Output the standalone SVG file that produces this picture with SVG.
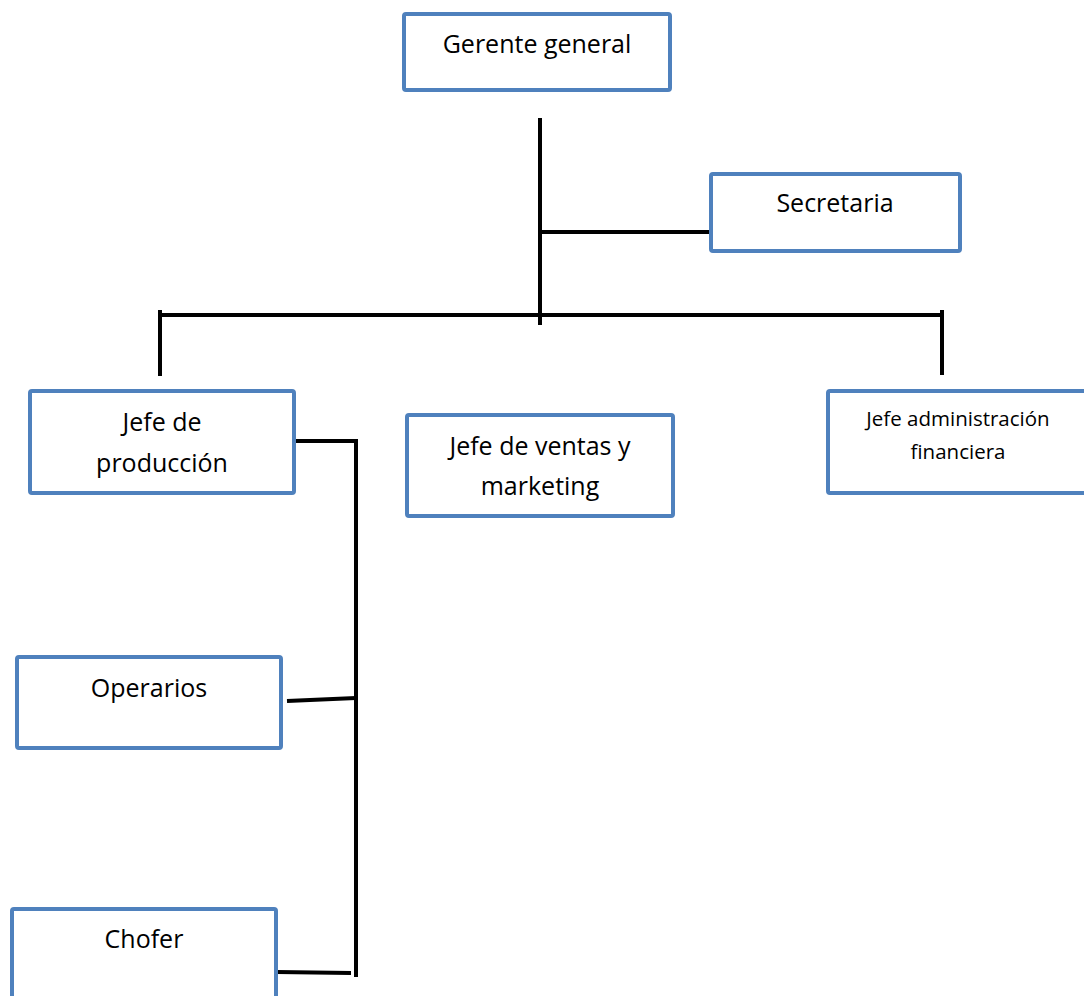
<svg xmlns="http://www.w3.org/2000/svg" width="1084" height="996" viewBox="0 0 1084 996">
<style>
.box{fill:#fff;stroke:#4F81BD;stroke-width:4;}
.lbl{font-family:"Open Sans","Noto Sans","Liberation Sans",sans-serif;font-size:25px;fill:#000;text-anchor:middle;}
.sm{font-size:20.5px;}
.ln{stroke:#000;stroke-width:4;fill:none;}
</style>
<rect width="1084" height="996" fill="#fff"/>
<g id="connectors">
<line class="ln" x1="540" y1="118" x2="540" y2="325"/>
<line class="ln" x1="540" y1="232" x2="713" y2="232"/>
<line class="ln" x1="158" y1="315" x2="944" y2="315"/>
<line class="ln" x1="160" y1="310" x2="160" y2="376"/>
<line class="ln" x1="942" y1="310" x2="942" y2="375"/>
<polyline class="ln" points="296,441 356,441 356,977"/>
<line class="ln" x1="287" y1="701" x2="356" y2="698"/>
<line class="ln" x1="277" y1="972" x2="351" y2="973"/>
</g>
<g id="gerente">
<rect class="box" x="404" y="14" width="266" height="76" rx="2"/>
<text class="lbl" x="537" y="53">Gerente general</text>
</g>
<g id="secretaria">
<rect class="box" x="711" y="174" width="249" height="77" rx="2"/>
<text class="lbl" x="835" y="212">Secretaria</text>
</g>
<g id="produccion">
<rect class="box" x="30" y="391" width="264" height="102" rx="2"/>
<text class="lbl" x="162" y="431">Jefe de</text>
<text class="lbl" x="162" y="472">producción</text>
</g>
<g id="ventas">
<rect class="box" x="407" y="415" width="266" height="101" rx="2"/>
<text class="lbl" x="540" y="455">Jefe de ventas y</text>
<text class="lbl" x="540" y="495">marketing</text>
</g>
<g id="finanzas">
<rect class="box" x="828" y="391" width="270" height="102" rx="2"/>
<text class="lbl sm" x="958" y="426">Jefe administración</text>
<text class="lbl sm" x="958" y="459">financiera</text>
</g>
<g id="operarios">
<rect class="box" x="17" y="657" width="264" height="91" rx="2"/>
<text class="lbl" x="149" y="697">Operarios</text>
</g>
<g id="chofer">
<rect class="box" x="12" y="909" width="264" height="100" rx="2"/>
<text class="lbl" x="144" y="948">Chofer</text>
</g>
</svg>
